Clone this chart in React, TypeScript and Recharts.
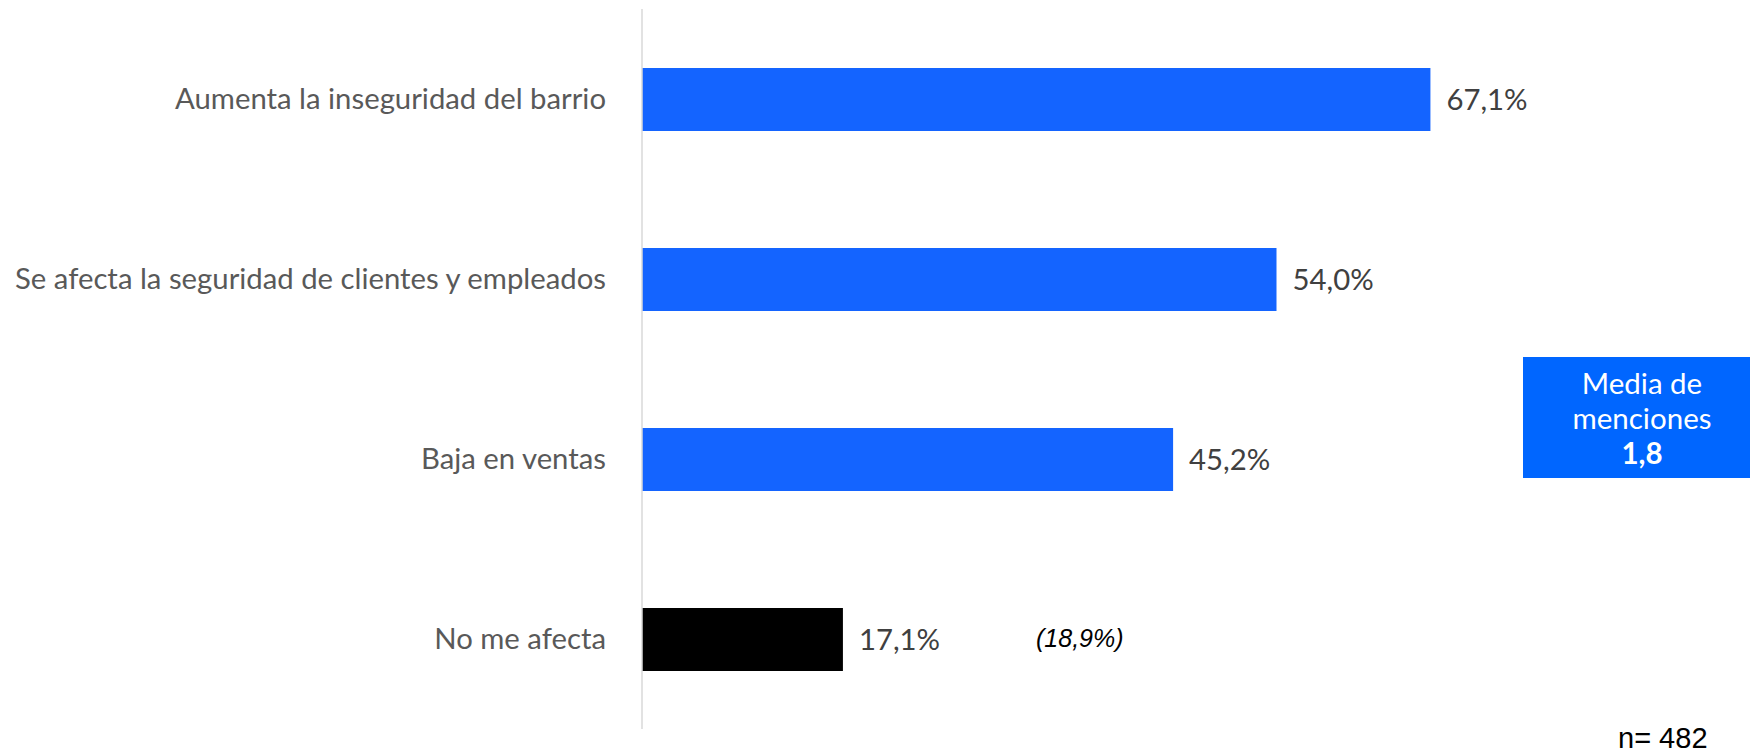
import React from 'react';
import { BarChart, Bar, XAxis, YAxis, Cell, LabelList } from 'recharts';

const categories = [
  'Aumenta la inseguridad del barrio',
  'Se afecta la seguridad de clientes y empleados',
  'Baja en ventas',
  'No me afecta',
];
const values = [67.1, 54.0, 45.2, 17.1];
const barColors = ['#1464FF', '#1464FF', '#1464FF', '#000000'];
const noteText = '(18,9%)';
const sampleText = 'n= 482';
const mediaLines = ['Media de', 'menciones'];
const mediaValue = '1,8';

const data = categories.map((name, i) => ({ name, value: values[i] }));

const fmt = (v: number) => v.toFixed(1).replace('.', ',') + '%';

export default function App() {
  return (
    <div style={{ position: 'absolute', left: 0, top: 0, width: 1750, height: 751, background: '#fff', overflow: 'hidden' }}>
      <BarChart
        width={1750}
        height={751}
        data={data}
        layout="vertical"
        margin={{ top: 9, right: 168, bottom: 22, left: 0 }}
        barSize={63}
      >
        <XAxis type="number" domain={[0, 80]} hide />
        <YAxis
          type="category"
          dataKey="name"
          width={642}
          tickLine={false}
          tickSize={0}
          tickMargin={36}
          axisLine={{ stroke: '#d9d9d9', strokeWidth: 1.5 }}
          tick={{ fill: '#595959', fontSize: 29.3, fontFamily: 'Lato' }}
        />
        <Bar dataKey="value" isAnimationActive={false}>
          {data.map((d, i) => (
            <Cell key={i} fill={barColors[i]} />
          ))}
          <LabelList
            dataKey="value"
            position="right"
            offset={16}
            formatter={(v: any) => fmt(Number(v))}
            style={{ fill: '#404040', fontSize: 29.3, fontFamily: 'Lato' }}
          />
        </Bar>
      </BarChart>
      <div
        style={{
          position: 'absolute',
          left: 1036,
          top: 622,
          fontFamily: 'Liberation Sans, Arial, sans-serif',
          fontStyle: 'italic',
          fontSize: 25,
          color: '#000',
          lineHeight: '32px',
          whiteSpace: 'nowrap',
        }}
      >
        {noteText}
      </div>
      <div
        style={{
          position: 'absolute',
          left: 1618,
          top: 726,
          fontFamily: 'Liberation Sans, Arial, sans-serif',
          fontSize: 29,
          color: '#000',
          lineHeight: '24px',
          whiteSpace: 'nowrap',
        }}
      >
        {sampleText}
      </div>
      <div
        style={{
          position: 'absolute',
          left: 1523,
          top: 357,
          width: 238,
          height: 121,
          background: '#0066FF',
          color: '#fff',
          fontFamily: 'Lato',
          fontSize: 29.5,
          lineHeight: '35px',
          textAlign: 'center',
          boxSizing: 'border-box',
          paddingTop: 8,
        }}
      >
        <div>{mediaLines[0]}</div>
        <div>{mediaLines[1]}</div>
        <div style={{ fontWeight: 700 }}>{mediaValue}</div>
      </div>
    </div>
  );
}
